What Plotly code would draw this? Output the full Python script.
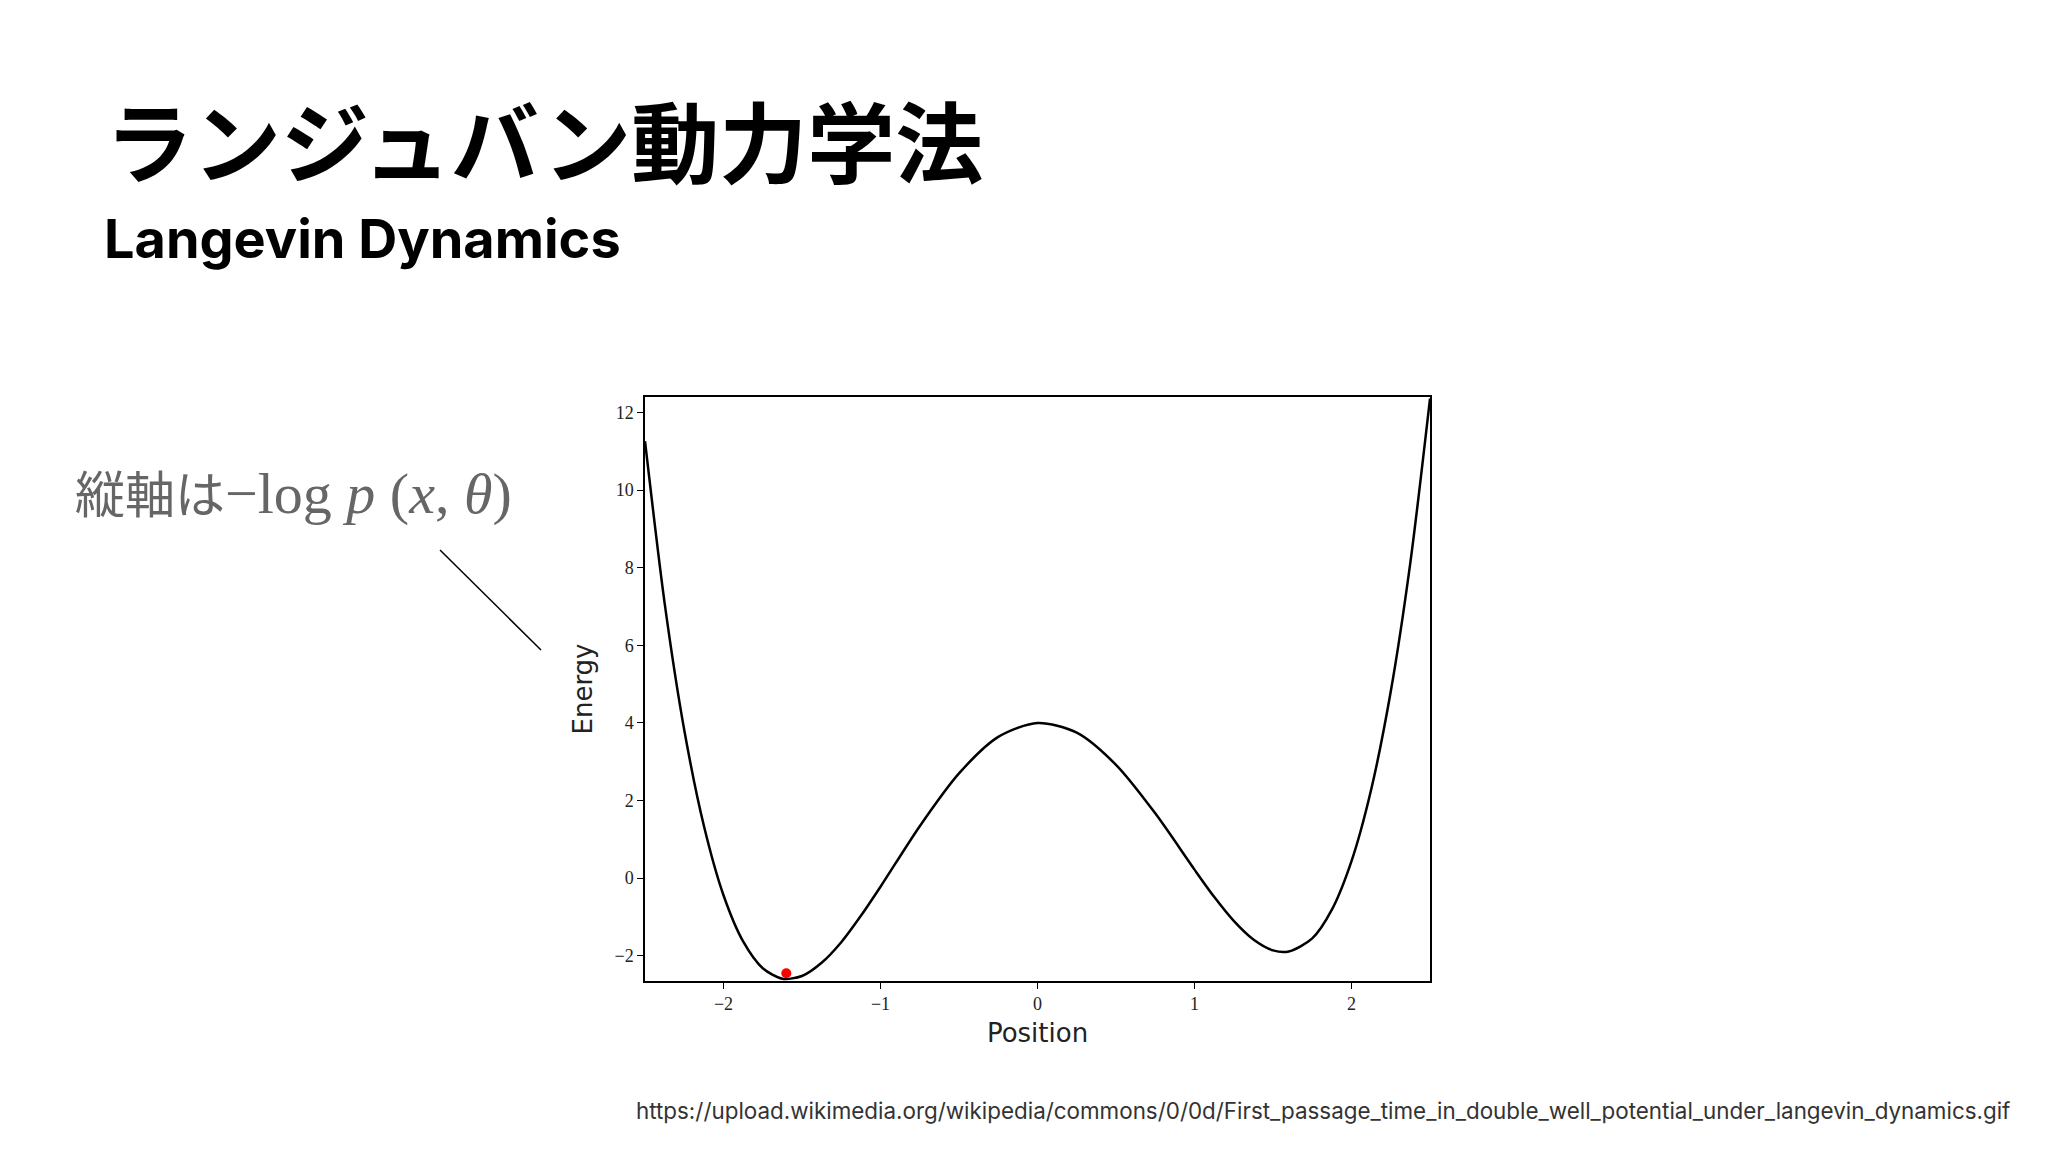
import plotly.graph_objects as go

position = [-2.5, -2.375, -2.25, -2.125, -2.0, -1.875, -1.75, -1.625, -1.5, -1.375, -1.25, -1.125, -1.0,
            -0.75, -0.5, -0.25, 0.0, 0.25, 0.5, 0.75, 1.0, 1.125, 1.25, 1.375, 1.5, 1.6, 1.75, 1.875,
            2.0, 2.125, 2.25, 2.375, 2.5]
energy = [11.26, 7.09, 3.82, 1.35, -0.44, -1.63, -2.32, -2.59, -2.52, -2.18, -1.65, -0.97, -0.22,
          1.34, 2.70, 3.64, 4.0, 3.75, 2.92, 1.67, 0.22, -0.48, -1.10, -1.58, -1.86, -1.89, -1.55, -0.81,
          0.44, 2.28, 4.81, 8.14, 12.36]
particle_x = [-1.6]
particle_y = [-2.45]
x_ticks = [-2, -1, 0, 1, 2]
y_ticks = [-2, 0, 2, 4, 6, 8, 10, 12]

fig = go.Figure()
fig.add_trace(go.Scatter(x=position, y=energy, mode="lines",
                         line=dict(color="black", width=2.5, shape="spline", smoothing=0.8),
                         hoverinfo="skip"))
fig.add_trace(go.Scatter(x=particle_x, y=particle_y, mode="markers",
                         marker=dict(color="red", size=10), hoverinfo="skip"))

axis_common = dict(showgrid=False, zeroline=False, showline=True, linecolor="black", linewidth=1.5,
                   mirror=True, ticks="outside", ticklen=6, tickcolor="black",
                   tickfont=dict(family="Liberation Serif", size=18, color="#222"))
fig.update_xaxes(range=[-2.5, 2.5], tickvals=x_ticks, ticktext=["−2", "−1", "0", "1", "2"],
                 title=dict(text="Position", font=dict(family="DejaVu Sans", size=26, color="#222"), standoff=10),
                 **axis_common)
fig.update_yaxes(range=[-2.65, 12.4], tickvals=y_ticks, ticktext=["−2", "0", "2", "4", "6", "8", "10", "12"],
                 title=dict(text="Energy", font=dict(family="DejaVu Sans", size=26, color="#222"), standoff=14),
                 **axis_common)

W, H = 2048, 1152
x0, x1, y0, y1 = 637, 1422, 389, 973
fig.update_layout(width=W, height=H, paper_bgcolor="white", plot_bgcolor="white", showlegend=False,
                  margin=dict(l=x0, r=W - x1, t=y0, b=H - y1))

ann = [
    dict(x=95, y=129, text="<b>ランジュバン動力学法</b>", size=88, family="Noto Sans CJK JP", color="black"),
    dict(x=94, y=231, text="<b>Langevin Dynamics</b>", size=54, family="Inter", color="black"),
    dict(x=65, y=483, text="縦軸は<span style='font-family:Liberation Serif;font-size:58px'>−log <i>p</i> (<i>x</i>, <i>θ</i>)</span>",
         size=50, family="Noto Sans CJK JP", color="#666"),
    dict(x=626, y=1102, text="https://upload.wikimedia.org/wikipedia/commons/0/0d/First_passage_time_in_double_well_potential_under_langevin_dynamics.gif",
         size=22.4, family="Inter", color="#333"),
]
for a in ann:
    fig.add_annotation(xref="paper", yref="paper", x=(a["x"] - x0) / (x1 - x0), y=(y1 - a["y"]) / (y1 - y0),
                       text=a["text"], showarrow=False, xanchor="left", yanchor="middle",
                       font=dict(family=a["family"], size=a["size"], color=a["color"]))
fig.add_shape(type="line", xref="paper", yref="paper",
              x0=(432 - x0) / (x1 - x0), y0=(y1 - 542) / (y1 - y0),
              x1=(533 - x0) / (x1 - x0), y1=(y1 - 642) / (y1 - y0),
              line=dict(color="black", width=1.5))
fig.write_html("out.html")
